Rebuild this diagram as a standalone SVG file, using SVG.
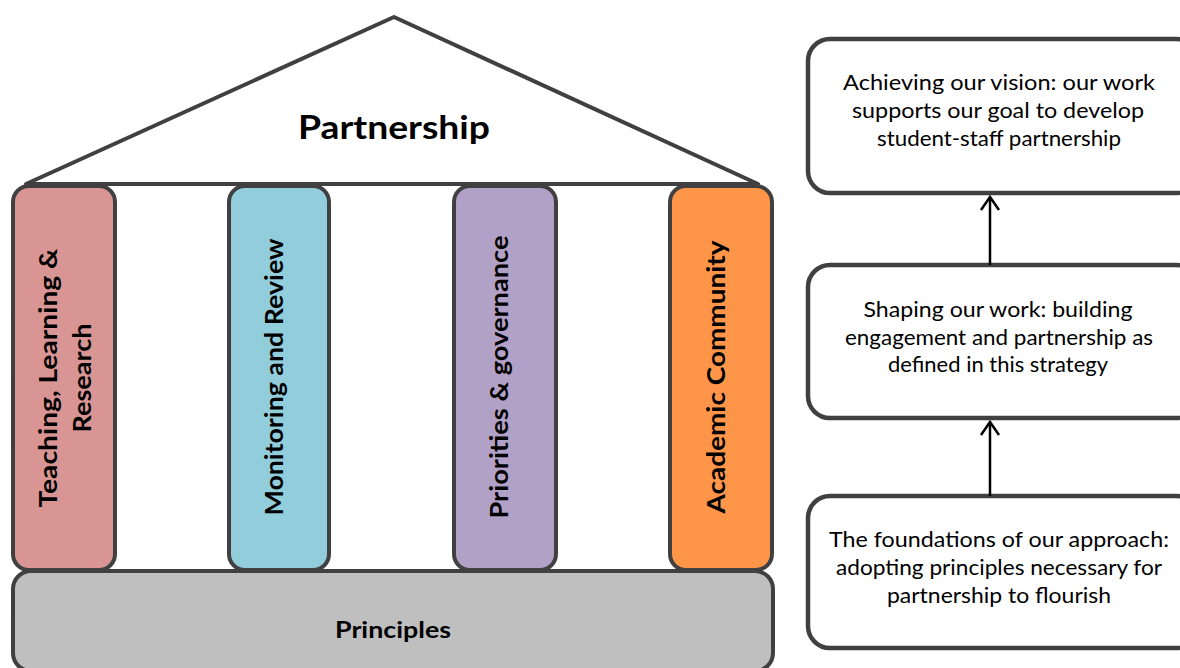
<svg xmlns="http://www.w3.org/2000/svg" width="1180" height="668" viewBox="0 0 1180 668">
<defs>
<style>
.outline{stroke:#404040;stroke-width:4;}
.pill{font-family:Lato,"Liberation Sans",sans-serif;font-weight:bold;font-size:25px;fill:#000;text-anchor:middle;}
.title{font-family:Lato,"Liberation Sans",sans-serif;font-weight:bold;fill:#000;text-anchor:middle;}
.box{fill:#fff;stroke:#404040;stroke-width:4.5;}
.btxt{font-family:Lato,"Liberation Sans",sans-serif;font-size:22px;fill:#000;text-anchor:middle;}
.conn{stroke:#000;stroke-width:2.5;fill:none;}
</style>
<marker id="open" markerWidth="18" markerHeight="22" refX="14" refY="10" orient="auto" markerUnits="userSpaceOnUse" viewBox="0 0 18 20">
<path d="M1,1 L14,10 L1,19" fill="none" stroke="#000" stroke-width="2.5"/>
</marker>
</defs>
<rect width="1180" height="668" fill="#fff"/>
<g id="roof">
<polygon class="outline" points="26,184 394,17 758,184" fill="#fff" stroke-linejoin="round"/>
<text class="title" x="394" y="139" font-size="33" textLength="192" lengthAdjust="spacingAndGlyphs">Partnership</text>
</g>
<g id="principles">
<rect class="outline" x="13" y="571" width="760" height="100" rx="18" fill="#BFBFBF"/>
<text class="title" x="393" y="638" font-size="23" textLength="116" lengthAdjust="spacingAndGlyphs">Principles</text>
</g>
<g id="pillar-teaching">
<rect class="outline" x="13" y="186" width="102" height="384" rx="16" fill="#D99594"/>
<text class="pill" transform="translate(57,378) rotate(-90)" textLength="259" lengthAdjust="spacingAndGlyphs">Teaching, Learning &amp;</text>
<text class="pill" transform="translate(91,378) rotate(-90)" textLength="109" lengthAdjust="spacingAndGlyphs">Research</text>
</g>
<g id="pillar-monitoring">
<rect class="outline" x="229" y="186" width="100" height="384" rx="16" fill="#92CDDC"/>
<text class="pill" transform="translate(283,377) rotate(-90)" textLength="277" lengthAdjust="spacingAndGlyphs">Monitoring and Review</text>
</g>
<g id="pillar-priorities">
<rect class="outline" x="454" y="186" width="102" height="384" rx="16" fill="#B2A1C7"/>
<text class="pill" transform="translate(508,377) rotate(-90)" textLength="283" lengthAdjust="spacingAndGlyphs">Priorities &amp; governance</text>
</g>
<g id="pillar-academic">
<rect class="outline" x="670" y="186" width="102" height="384" rx="16" fill="#FF9548"/>
<text class="pill" transform="translate(725,377) rotate(-90)" textLength="273" lengthAdjust="spacingAndGlyphs">Academic Community</text>
</g>
<g id="vision">
<rect class="box" x="808" y="39" width="390" height="154" rx="22"/>
<text class="btxt" x="999" y="90" textLength="312" lengthAdjust="spacingAndGlyphs">Achieving our vision: our work</text>
<text class="btxt" x="998" y="118" textLength="292" lengthAdjust="spacingAndGlyphs">supports our goal to develop</text>
<text class="btxt" x="999" y="146" textLength="244" lengthAdjust="spacingAndGlyphs">student-staff partnership</text>
</g>
<g id="shaping">
<rect class="box" x="808" y="265" width="390" height="153" rx="22"/>
<text class="btxt" x="998" y="317" textLength="269" lengthAdjust="spacingAndGlyphs">Shaping our work: building</text>
<text class="btxt" x="999" y="345" textLength="308" lengthAdjust="spacingAndGlyphs">engagement and partnership as</text>
<text class="btxt" x="998" y="372" textLength="220" lengthAdjust="spacingAndGlyphs">defined in this strategy</text>
</g>
<g id="foundations">
<rect class="box" x="808" y="496" width="390" height="152" rx="22"/>
<text class="btxt" x="999" y="547" textLength="340" lengthAdjust="spacingAndGlyphs">The foundations of our approach:</text>
<text class="btxt" x="999" y="575" textLength="326" lengthAdjust="spacingAndGlyphs">adopting principles necessary for</text>
<text class="btxt" x="999" y="603" textLength="224" lengthAdjust="spacingAndGlyphs">partnership to flourish</text>
</g>
<g id="connectors">
<line class="conn" x1="990" y1="265" x2="990" y2="197" marker-end="url(#open)"/>
<line class="conn" x1="990" y1="496" x2="990" y2="422" marker-end="url(#open)"/>
</g>
</svg>
